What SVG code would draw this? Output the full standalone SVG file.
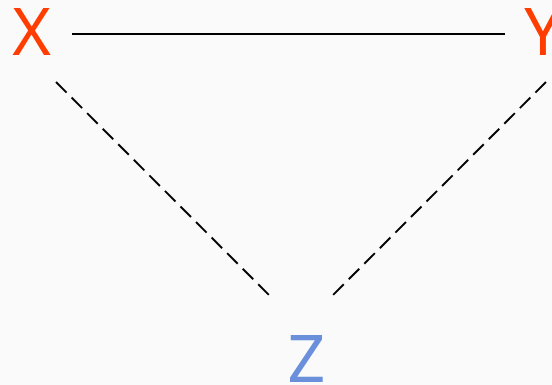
<svg xmlns="http://www.w3.org/2000/svg" width="552" height="385" viewBox="0 0 552 385">
<style>
.lbl{font-family:"Noto Sans","Open Sans",sans-serif;font-size:66px;text-anchor:middle}
.red{fill:#ff3d00}
.blue{fill:#6a8fdb}
.e{stroke:#000;stroke-width:2;fill:none}
.d{stroke-dasharray:15 7}
</style>
<rect width="552" height="385" fill="#fafafa"/>
<g id="edges">
<line class="e" x1="72" y1="34" x2="505" y2="34"/>
<line class="e d" x1="56" y1="82" x2="270" y2="296"/>
<line class="e d" x1="546" y1="82" x2="332" y2="296"/>
</g>
<g id="X"><text class="lbl red" x="31.5" y="55">X</text></g>
<g id="Y"><text class="lbl red" x="543" y="55">Y</text></g>
<g id="Z"><text class="lbl blue" x="306.5" y="382">Z</text></g>
</svg>
